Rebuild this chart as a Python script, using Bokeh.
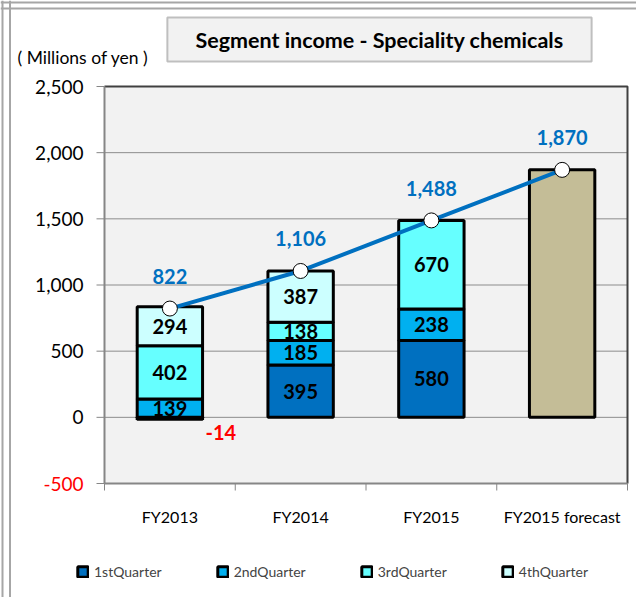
import math
from bokeh.plotting import figure
from bokeh.models import (ColumnDataSource, Range1d, Label, Legend, LegendItem, Span)
from bokeh.core.properties import value
from bokeh.embed import file_html
from bokeh.resources import INLINE

# ---- data ----
categories = ["FY2013", "FY2014", "FY2015", "FY2015 forecast"]
quarters = ["1stQuarter", "2ndQuarter", "3rdQuarter", "4thQuarter"]
q1 = [-14, 395, 580, None]
q2 = [139, 185, 238, None]
q3 = [402, 138, 670, None]
q4 = [294, 387, None, None]
forecast = [None, None, None, 1870]
totals = [822, 1106, 1488, 1870]
y_ticks = [-500, 0, 500, 1000, 1500, 2000, 2500]

quarter_colors = ["#0070C0", "#00B0F0", "#66FFFF", "#CCFFFF"]
forecast_color = "#C4BD97"
line_color = "#0070C0"
FONT = "Lato"

# ---- layout (pixels) ----
W, H = 636, 597
PX_L, PX_R, PX_T, PX_B = 104, 627, 86, 483
n = len(categories)
ymin, ymax = y_ticks[0], y_ticks[-1]
xs = n / (PX_R - PX_L)
ys = (ymax - ymin) / (PX_B - PX_T)
xpos = [i + 0.5 for i in range(n)]

p = figure(width=W, height=H, output_backend="svg", toolbar_location=None,
           x_range=Range1d(-PX_L * xs, n + (W - PX_R) * xs),
           y_range=Range1d(ymin - (H - PX_B) * ys, ymax + PX_T * ys),
           x_axis_location=None, y_axis_location=None, min_border=0)
p.background_fill_color = "white"
p.border_fill_color = "white"
p.outline_line_color = None
p.grid.visible = False

# outer cell borders
for loc, dim in [(2, "height"), (9.5, "height"), (H - 2, "width"), (H - 8, "width")]:
    p.add_layout(Span(location=loc, location_units="screen", dimension=dim,
                      line_color="#a6a6a6", line_width=2))

# plot area
p.quad(left=0, right=n, bottom=ymin, top=ymax, fill_color="#f2f2f2", line_color=None)
p.segment(x0=0, x1=n, y0=y_ticks, y1=y_ticks, line_color="#8c8c8c", line_width=1)
p.line(x=[0, n, n], y=[ymax, ymax, ymin], line_color="#404040", line_width=2)
p.segment(x0=[0, 0], y0=[ymin, ymin], x1=[0, n], y1=[ymax, ymin], line_color="#868686", line_width=2)

# y axis ticks + labels
p.ray(x=0, y=y_ticks, length=8, length_units="screen", angle=math.pi,
      line_color="#868686", line_width=1)
p.text(x=0, y=y_ticks, text=[f"{v:,}" for v in y_ticks], x_offset=-21,
       text_align="right", text_baseline="middle", text_font=value(FONT),
       text_font_size="19px", text_color=["#FF0000" if v < 0 else "black" for v in y_ticks])

# x axis ticks (category boundaries) + labels
p.ray(x=list(range(n + 1)), y=ymin, length=7, length_units="screen", angle=-math.pi / 2,
      line_color="#868686", line_width=1)
p.text(x=xpos, y=ymin, text=categories, y_offset=33, text_align="center",
       text_baseline="middle", text_font=value(FONT), text_font_size="16px", text_color="black")

# ---- stacked bars ----
pos_base = [0] * n
neg_base = [0] * n
legend_items = []
lab_x, lab_y, lab_t = [], [], []
neg_x, neg_y, neg_t = [], [], []
for name, vals, col in zip(quarters, [q1, q2, q3, q4], quarter_colors):
    bx, bots, tops = [], [], []
    for i, v in enumerate(vals):
        if v is None:
            continue
        if v >= 0:
            b = pos_base[i]; t = b + v; pos_base[i] = t
            lab_x.append(xpos[i]); lab_y.append((b + t) / 2); lab_t.append(f"{v:,}")
        else:
            b = neg_base[i]; t = b + v; neg_base[i] = t
            neg_x.append(xpos[i]); neg_y.append(t); neg_t.append(f"{v:,}")
        bx.append(xpos[i]); bots.append(b); tops.append(t)
    src = ColumnDataSource(dict(x=bx, bottom=bots, top=tops))
    r = p.vbar(x="x", bottom="bottom", top="top", width=0.5, source=src,
               fill_color=col, line_color="black", line_width=3)
    legend_items.append(LegendItem(label=name, renderers=[r]))

fx = [x for x, v in zip(xpos, forecast) if v is not None]
fv = [v for v in forecast if v is not None]
p.vbar(x=fx, bottom=0, top=fv, width=0.5, fill_color=forecast_color,
       line_color="black", line_width=3)

p.text(x=lab_x, y=lab_y, text=lab_t, text_align="center", text_baseline="middle",
       text_font=value(FONT), text_font_style="bold", text_font_size="20px", text_color="black")
p.text(x=neg_x, y=neg_y, text=neg_t, x_offset=51, y_offset=13, text_align="center",
       text_baseline="middle", text_font=value(FONT), text_font_style="bold",
       text_font_size="20px", text_color="#FF0000")

# ---- total line ----
p.line(x=xpos, y=totals, line_width=4, line_color=line_color)
p.scatter(x=xpos, y=totals, size=15, fill_color="white", line_color="black", line_width=1)
p.text(x=xpos, y=totals, text=[f"{v:,}" for v in totals], y_offset=-32,
       text_align="center", text_baseline="middle", text_font=value(FONT),
       text_font_style="bold", text_font_size="20px", text_color=line_color)

# unit label and title box (screen units: origin bottom-left of canvas)
p.add_layout(Label(x=17, y=H - 57, x_units="screen", y_units="screen", text="( Millions of yen )",
                   text_align="left", text_baseline="middle", text_font=FONT,
                   text_font_size="17.5px", text_color="black"))
p.add_layout(Label(x=379, y=H - 39, x_units="screen", y_units="screen",
                   text="Segment income - Speciality chemicals",
                   text_align="center", text_baseline="middle", text_font=FONT,
                   text_font_style="bold", text_font_size="21.5px", text_color="black",
                   background_fill_color="#f2f2f2", border_line_color="#bfbfbf",
                   border_line_width=2, padding=dict(left=28, right=28, top=9, bottom=9)))

# legend
legend = Legend(items=legend_items, orientation="horizontal", location=(76, H - 573 - 7),
                glyph_width=13, glyph_height=13, label_standoff=5, spacing=54,
                padding=0, margin=0, border_line_color=None, background_fill_alpha=0,
                label_text_font=FONT, label_text_font_size="14px", label_height=14)
p.add_layout(legend)

open("out.html", "w").write(file_html(p, INLINE))
